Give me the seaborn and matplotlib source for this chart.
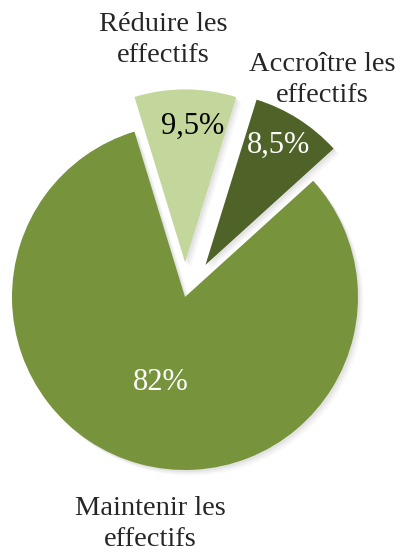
import matplotlib
matplotlib.use("Agg")
import matplotlib.pyplot as plt
import seaborn as sns

# données du graphique
categories = ["Réduire les\neffectifs", "Accroître les\neffectifs", "Maintenir les\neffectifs"]
parts = [9.5, 8.5, 82]
pct_labels = ["9,5%", "8,5%", "82%"]
couleurs = ["#C3D69B", "#4F6228", "#77933C"]
couleurs_pct = ["black", "white", "white"]

sns.set_style("white")
plt.rcParams["font.family"] = ["Liberation Serif", "DejaVu Serif"]

fig = plt.figure(figsize=(4.03, 5.53), dpi=100)
ax = fig.add_axes([0, 0, 1, 1])

r = 173.0
cx, cy = 185.0, 297.0
W, H = 403.0, 553.0

wedges, txts, pcts = ax.pie(
    parts,
    labels=categories,
    colors=couleurs,
    explode=[0.2, 0.22, 0],
    startangle=107,
    counterclock=False,
    autopct=lambda p: "",
    wedgeprops={"linewidth": 0},
)

# ombre douce (quelques couches grises décalées)
for w in wedges:
    for k, a in [(0.012, 0.10), (0.022, 0.08), (0.032, 0.05)]:
        sh = plt.matplotlib.patches.Wedge(
            (w.center[0] + k, w.center[1] - k), w.r, w.theta1, w.theta2,
            facecolor="gray", alpha=a, linewidth=0, zorder=w.get_zorder() - 0.5)
        ax.add_patch(sh)

def px(x, y):
    # pixel -> data
    return ((x - cx) / r, (cy - y) / r)

label_pos = [(163, 40), (322, 80), (150, 524)]
for t, (x, y) in zip(txts, label_pos):
    t.set_position(px(x, y))
    t.set_ha("center")
    t.set_va("center")
    t.set_fontsize(20.5)
    t.set_linespacing(1.3)

pct_pos = [(193, 126), (278, 145), (161, 382)]
for t, s, c, (x, y) in zip(pcts, pct_labels, couleurs_pct, pct_pos):
    t.set_text(s)
    t.set_position(px(x, y))
    t.set_ha("center")
    t.set_va("center")
    t.set_color(c)
    t.set_fontsize(22)

ax.set_xlim(-cx / r, (W - cx) / r)
ax.set_ylim(-(H - cy) / r, cy / r)
ax.set_aspect("equal")
ax.axis("off")

fig.savefig("out.png", dpi=100, facecolor="white")
